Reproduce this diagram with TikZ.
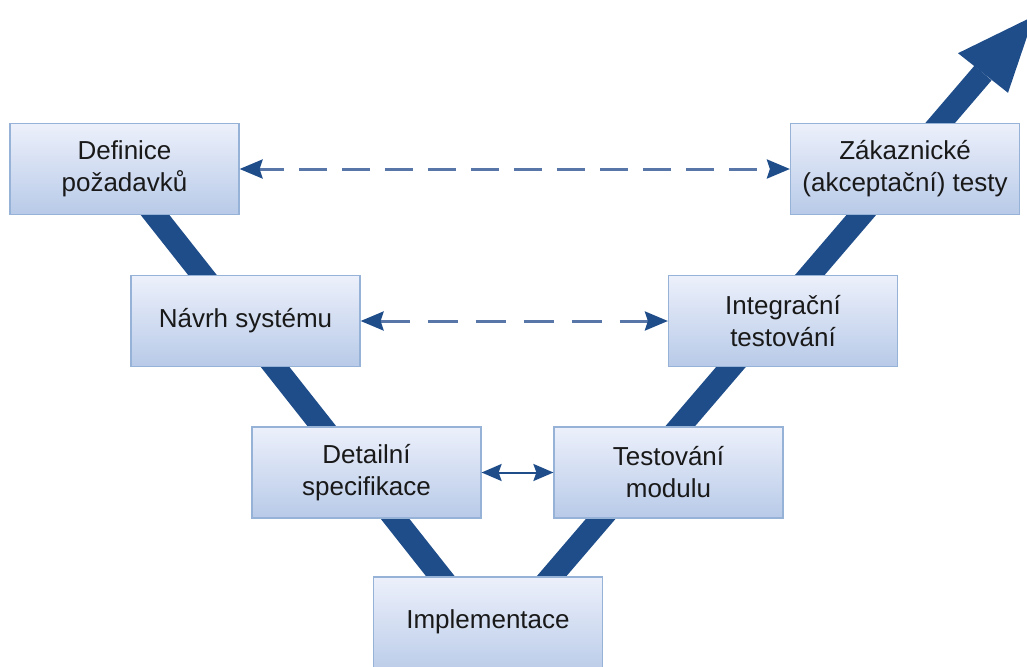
\documentclass[tikz,border=0pt]{standalone}
\usepackage{fontspec}
\setmainfont{Liberation Sans}
\usetikzlibrary{arrows.meta}
\definecolor{band}{RGB}{31,77,138}
\definecolor{tipdark}{RGB}{31,77,138}
\definecolor{dashcol}{RGB}{88,118,168}
\definecolor{boxtop}{RGB}{236,240,251}
\definecolor{boxbot}{RGB}{184,202,232}
\definecolor{boxline}{RGB}{150,178,215}
\definecolor{txt}{RGB}{25,25,25}
\tikzset{
  vbox/.style={draw=boxline, line width=1.2pt, top color=boxtop, bottom color=boxbot,
    minimum width=229pt, minimum height=91pt, inner sep=0pt, align=center,
    text=txt, font=\fontsize{26}{32}\selectfont},
  dasharrow/.style={draw=dashcol, line width=3pt,
    {Stealth[length=23pt,width=19pt,inset=3pt,color=tipdark]}-{Stealth[length=23pt,width=19pt,inset=3pt,color=tipdark]}},
  solidarrow/.style={draw=tipdark, line width=2pt,
    {Stealth[length=20pt,width=17pt,inset=3pt]}-{Stealth[length=20pt,width=17pt,inset=3pt]}},
  vband/.style={draw=band, line width=22.5pt, line join=round}
}
\begin{document}
\begin{tikzpicture}[x=1pt,y=-1pt]
\useasboundingbox (0,0) rectangle (1027,666);
\begin{scope}
\clip (0,0) rectangle (1027,666);
% band coordinates
\coordinate (bstart) at (119.5,170);
\coordinate (bmeet) at (493.7,643.7);
\coordinate (bend) at (983,73);
\draw[vband] (bstart) -- (bmeet) -- (bend);
% arrow head of the band
\coordinate (hw1) at (1008.0,92.8);
\coordinate (hw2) at (958.0,53.2);
\coordinate (htip) at (1034,16);
\fill[band] (hw1) -- (htip) -- (hw2) -- cycle;
% boxes
\node[vbox] (def) at (124.5,169) {Definice\\požadavků};
\node[vbox] (zak) at (905,169) {Zákaznické\\(akceptační) testy};
\node[vbox] (nav) at (245.5,321) {Návrh systému};
\node[vbox] (int) at (783,321) {Integrační\\testování};
\node[vbox] (det) at (366.5,472.5) {Detailní\\specifikace};
\node[vbox] (tes) at (668.5,472.5) {Testování\\modulu};
\node[vbox, minimum height=100pt] (imp) at (488,627) {};
\node[text=txt, font=\fontsize{26}{32}\selectfont] (imptxt) at (488,622) {Implementace};
% connectors
\draw[dasharrow, dash pattern=on 28pt off 15pt, dash phase=3pt] (def.east) -- (zak.west);
\draw[dasharrow, dash pattern=on 30pt off 18pt, dash phase=0pt] (nav.east) -- (int.west);
\draw[solidarrow] (det.east) -- (tes.west);
\end{scope}
\end{tikzpicture}
\end{document}
